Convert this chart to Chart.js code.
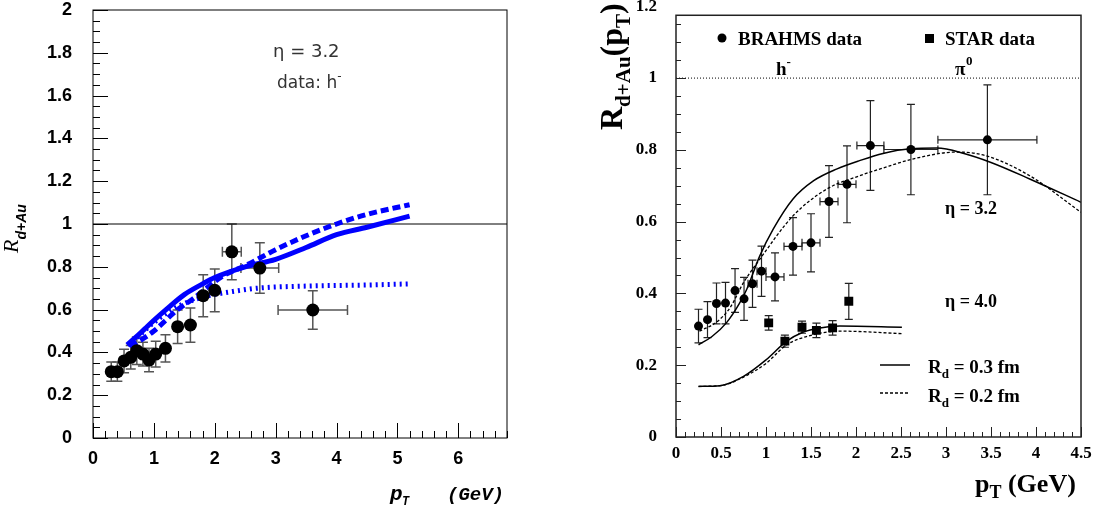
<!DOCTYPE html>
<html>
<head>
<meta charset="utf-8">
<script src="https://cdn.jsdelivr.net/npm/chart.js@4/dist/chart.umd.min.js"></script>
<style>
    body { margin: 0; background: #fff; width: 1101px; height: 509px; overflow: hidden; position: relative; }
    canvas { position: absolute; top: 0; }
    #left { left: 0; }
    #right { left: 560px; }
</style>
</head>
<body>
<canvas id="left" width="560" height="509"></canvas>
<canvas id="right" width="541" height="509"></canvas>
<script>
// ---- panel izquierdo: eta = 3.2, datos h- ----
const leftPt   = [0.30, 0.40, 0.51, 0.62, 0.72, 0.82, 0.92, 1.03, 1.19, 1.39, 1.60, 1.81, 2.00, 2.28, 2.74, 3.61];
const leftR    = [0.31, 0.31, 0.36, 0.377, 0.408, 0.392, 0.364, 0.392, 0.419, 0.52, 0.528, 0.665, 0.69, 0.87, 0.794, 0.598];
const leftErrY = [0.045, 0.045, 0.055, 0.055, 0.064, 0.055, 0.055, 0.06, 0.064, 0.078, 0.08, 0.098, 0.1, 0.13, 0.118, 0.09];
const leftErrX = [0, 0, 0, 0, 0, 0, 0.03, 0.03, 0.05, 0.05, 0.05, 0, 0, 0.155, 0.31, 0.57];

const blueSolidX  = [0.56, 0.7, 0.85, 1.0, 1.2, 1.5, 1.8, 2.0, 2.5, 3.0, 3.5, 4.0, 4.5, 5.2];
const blueSolidY  = [0.435, 0.47, 0.51, 0.55, 0.6, 0.67, 0.72, 0.75, 0.80, 0.835, 0.89, 0.95, 0.985, 1.037];
const blueDashX   = [0.61, 0.8, 1.0, 1.37, 1.64, 2.14, 2.52, 3.0, 3.5, 4.0, 4.5, 5.2];
const blueDashY   = [0.427, 0.46, 0.50, 0.595, 0.65, 0.758, 0.808, 0.88, 0.945, 1.0, 1.045, 1.09];
const blueDotX    = [0.58, 0.8, 1.0, 1.3, 1.6, 1.9, 2.3, 2.7, 3.5, 4.5, 5.2];
const blueDotY    = [0.43, 0.49, 0.54, 0.60, 0.64, 0.665, 0.685, 0.70, 0.71, 0.715, 0.72];

const leftUnityX = [0, 6.8];
const leftUnityY = [1, 1];

// ---- panel derecho: BRAHMS / STAR ----
const brahmsPt   = [0.25, 0.35, 0.45, 0.55, 0.656, 0.756, 0.85, 0.95, 1.1, 1.3, 1.5, 1.7, 1.9, 2.16, 2.61, 3.46];
const brahmsR    = [0.309, 0.327, 0.372, 0.373, 0.408, 0.385, 0.427, 0.462, 0.446, 0.531, 0.541, 0.656, 0.704, 0.812, 0.801, 0.828];
const brahmsErrY = [0.047, 0.05, 0.057, 0.058, 0.061, 0.06, 0.066, 0.07, 0.067, 0.08, 0.081, 0.1, 0.107, 0.125, 0.126, 0.153];
const brahmsErrX = [0, 0, 0, 0, 0, 0, 0.05, 0.05, 0.1, 0.1, 0.1, 0.1, 0.1, 0.15, 0.3, 0.55];

const starPt   = [1.03, 1.21, 1.40, 1.56, 1.74, 1.92];
const starR    = [0.318, 0.267, 0.306, 0.297, 0.304, 0.378];
const starErrY = [0.02, 0.017, 0.017, 0.02, 0.02, 0.05];

const eta32SolidX = [0.25, 0.4, 0.56, 0.7, 0.785, 0.93, 1.08, 1.3, 1.53, 1.79, 2.04, 2.3, 2.6, 2.9, 3.2, 3.5, 3.93, 4.5];
const eta32SolidY = [0.257, 0.28, 0.318, 0.37, 0.411, 0.504, 0.579, 0.663, 0.714, 0.747, 0.77, 0.79, 0.803, 0.805, 0.79, 0.765, 0.719, 0.654];
const eta32DashX  = [0.26, 0.45, 0.6, 0.75, 0.93, 1.3, 1.67, 2.04, 2.27, 2.64, 3.12, 3.44, 3.93, 4.5];
const eta32DashY  = [0.295, 0.32, 0.36, 0.43, 0.495, 0.616, 0.69, 0.728, 0.747, 0.775, 0.794, 0.784, 0.728, 0.626];
const eta40SolidX = [0.25, 0.49, 0.75, 1.0, 1.23, 1.41, 1.6, 1.82, 2.51];
const eta40SolidY = [0.141, 0.143, 0.169, 0.215, 0.267, 0.292, 0.304, 0.309, 0.306];
const eta40DashX  = [0.25, 0.49, 0.75, 1.0, 1.23, 1.53, 1.82, 2.51];
const eta40DashY  = [0.141, 0.143, 0.167, 0.205, 0.257, 0.285, 0.295, 0.288];

const rightUnityX = [0, 4.5];
const rightUnityY = [1, 1];

function pts(xs, ys) {
    return xs.map((x, i) => ({ x: x, y: ys[i] }));
}

// texto con sub/superindices
function rich(ctx, x, y, parts) {
    let cx = x;
    parts.forEach(p => {
        ctx.font = p.font;
        ctx.fillText(p.text, cx, y + (p.dy || 0));
        cx += ctx.measureText(p.text).width;
    });
}

// que chart.js no meta margen extra por las etiquetas
function fixX(h) {
    return s => { s.height = h; s.paddingLeft = 0; s.paddingRight = 0; };
}
function fixY(w) {
    return s => { s.width = w; s.paddingTop = 0; s.paddingBottom = 0; };
}

// barras de error (antes de pintar los puntos)
const errPlugin = {
    id: 'errbars',
    beforeDatasetsDraw(chart) {
        const ctx = chart.ctx, xs = chart.scales.x, ys = chart.scales.y;
        chart.data.datasets.forEach(ds => {
            if (!ds.errY) return;
            ctx.save();
            ctx.strokeStyle = ds.errColor;
            ctx.lineWidth = ds.errWidth;
            const cap = ds.capSize;
            ds.data.forEach((p, i) => {
                const px = xs.getPixelForValue(p.x), py = ys.getPixelForValue(p.y);
                const ey = ds.errY[i], ex = ds.errX ? ds.errX[i] : 0;
                ctx.beginPath();
                if (ey) {
                    const y1 = ys.getPixelForValue(p.y - ey), y2 = ys.getPixelForValue(p.y + ey);
                    ctx.moveTo(px, y1); ctx.lineTo(px, y2);
                    ctx.moveTo(px - cap, y1); ctx.lineTo(px + cap, y1);
                    ctx.moveTo(px - cap, y2); ctx.lineTo(px + cap, y2);
                }
                if (ex) {
                    const x1 = xs.getPixelForValue(p.x - ex), x2 = xs.getPixelForValue(p.x + ex);
                    ctx.moveTo(x1, py); ctx.lineTo(x2, py);
                    ctx.moveTo(x1, py - cap); ctx.lineTo(x1, py + cap);
                    ctx.moveTo(x2, py - cap); ctx.lineTo(x2, py + cap);
                }
                ctx.stroke();
            });
            ctx.restore();
        });
    }
};

// marco + ticks hacia dentro + textos
function makeFrame(o) {
    return {
        id: 'frame',
        afterDraw(chart) {
            const ctx = chart.ctx, a = chart.chartArea;
            const xs = chart.scales.x, ys = chart.scales.y;
            ctx.save();
            ctx.strokeStyle = o.frameColor;
            ctx.lineWidth = o.frameWidth;
            const top = o.frameTop !== undefined ? ys.getPixelForValue(o.frameTop) : a.top;
            ctx.strokeRect(a.left, top, a.right - a.left, a.bottom - top);
            ctx.lineWidth = 1;
            ctx.beginPath();
            for (let v = 0; v <= xs.max + 1e-9; v += o.xMinor) {
                const maj = Math.abs(v / o.xMajor - Math.round(v / o.xMajor)) < 1e-6;
                const px = Math.round(xs.getPixelForValue(v)) + 0.5;
                ctx.moveTo(px, a.bottom);
                ctx.lineTo(px, a.bottom - (maj ? o.xMajLen : o.xMinLen));
            }
            for (let v = 0; v <= ys.max + 1e-9; v += o.yMinor) {
                const maj = Math.abs(v / o.yMajor - Math.round(v / o.yMajor)) < 1e-6;
                const py = Math.round(ys.getPixelForValue(v)) + 0.5;
                if (py < top) continue;
                ctx.moveTo(a.left, py);
                ctx.lineTo(a.left + (maj ? o.yMajLen : o.yMinLen), py);
            }
            ctx.stroke();
            ctx.restore();
            ctx.save();
            o.text(ctx);
            ctx.restore();
        }
    };
}

// ================= izquierda =================
const leftFrame = makeFrame({
    frameColor: '#000', frameWidth: 1,
    xMinor: 0.2, xMajor: 1, xMinLen: 7, xMajLen: 15,
    yMinor: 0.05, yMajor: 0.2, yMinLen: 7, yMajLen: 15,
    text(ctx) {
        ctx.fillStyle = '#333';
        rich(ctx, 273, 57, [{ text: 'η = 3.2', font: '18px "DejaVu Sans"' }]);
        rich(ctx, 277, 88, [
            { text: 'data: h', font: '17px "DejaVu Sans"' },
            { text: '-', font: '12px "DejaVu Sans"', dy: -8 }
        ]);
        ctx.fillStyle = '#000';
        // titulo eje y
        ctx.save();
        ctx.translate(18, 253);
        ctx.rotate(-Math.PI / 2);
        rich(ctx, 0, 0, [
            { text: 'R', font: 'italic 22px "Liberation Serif"' },
            { text: 'd+Au', font: 'italic bold 14px "Liberation Sans"', dy: 8 }
        ]);
        ctx.restore();
        // titulo eje x
        rich(ctx, 390, 500, [{ text: 'p', font: 'bold italic 21px "Liberation Mono"' }]);
        rich(ctx, 402, 505, [{ text: 'T', font: 'bold italic 12px "Liberation Mono"' }]);
        rich(ctx, 447, 500, [{ text: '(GeV)', font: 'bold italic 19px "Liberation Mono"' }]);
    }
});

new Chart(document.getElementById('left'), {
    type: 'scatter',
    data: {
        datasets: [
            {
                label: 'h- data',
                data: pts(leftPt, leftR),
                errY: leftErrY, errX: leftErrX, errColor: '#555', errWidth: 1.5, capSize: 5,
                pointRadius: 6.5, backgroundColor: '#000', borderColor: '#000', borderWidth: 0
            },
            {
                label: 'solid', data: pts(blueSolidX, blueSolidY), showLine: true,
                borderColor: '#0000ff', borderWidth: 5, pointRadius: 0, cubicInterpolationMode: 'monotone'
            },
            {
                label: 'dashed', data: pts(blueDashX, blueDashY), showLine: true, borderDash: [8, 4],
                borderColor: '#0000ff', borderWidth: 5, pointRadius: 0, cubicInterpolationMode: 'monotone'
            },
            {
                label: 'dotted', data: pts(blueDotX, blueDotY), showLine: true, borderDash: [2, 4],
                borderColor: '#0000ff', borderWidth: 5, pointRadius: 0, cubicInterpolationMode: 'monotone'
            },
            {
                label: 'unity', data: pts(leftUnityX, leftUnityY), showLine: true,
                borderColor: '#000', borderWidth: 1, pointRadius: 0
            }
        ]
    },
    options: {
        responsive: false,
        animation: false,
        devicePixelRatio: 1,
        layout: { padding: { top: 10, right: 53, left: 0, bottom: 0 } },
        plugins: { legend: { display: false }, tooltip: { enabled: false } },
        scales: {
            x: {
                type: 'linear', min: 0, max: 6.8,
                afterFit: fixX(71),
                grid: { display: false, drawTicks: false }, border: { display: false },
                ticks: {
                    stepSize: 1, includeBounds: false, padding: 10, maxRotation: 0, color: '#000',
                    font: { family: 'Liberation Sans', weight: 'bold', size: 18 }
                }
            },
            y: {
                type: 'linear', min: 0, max: 2,
                afterFit: fixY(93),
                grid: { display: false, drawTicks: false }, border: { display: false },
                ticks: {
                    stepSize: 0.2, includeBounds: false, padding: 21, color: '#000',
                    font: { family: 'Liberation Sans', weight: 'bold', size: 18 },
                    callback: v => +v.toFixed(1)
                }
            }
        }
    },
    plugins: [errPlugin, leftFrame]
});

// ================= derecha =================
const OX = 560;
const rightFrame = makeFrame({
    frameColor: '#222', frameWidth: 1.5, frameTop: 1.175,
    xMinor: 0.1, xMajor: 0.5, xMinLen: 5, xMajLen: 10,
    yMinor: 0.05, yMajor: 0.2, yMinLen: 5, yMajLen: 10,
    text(ctx) {
        const F = 'bold 19px "Liberation Serif"';
        const S = 'bold 13px "Liberation Serif"';
        ctx.fillStyle = '#000';
        ctx.strokeStyle = '#000';
        ctx.beginPath();
        ctx.arc(722 - OX, 38, 4.5, 0, Math.PI * 2);
        ctx.fill();
        rich(ctx, 738 - OX, 45, [{ text: 'BRAHMS data', font: F }]);
        ctx.fillRect(925 - OX, 34, 9, 9);
        rich(ctx, 945 - OX, 45, [{ text: 'STAR data', font: F }]);
        rich(ctx, 776 - OX, 75, [{ text: 'h', font: F }, { text: '-', font: S, dy: -9 }]);
        rich(ctx, 955 - OX, 75, [{ text: 'π', font: F }]);
        rich(ctx, 966 - OX, 65, [{ text: '0', font: S }]);
        rich(ctx, 945 - OX, 214, [{ text: 'η = 3.2', font: 'bold 18px "Liberation Serif"' }]);
        rich(ctx, 945 - OX, 307, [{ text: 'η = 4.0', font: 'bold 18px "Liberation Serif"' }]);
        // leyenda de lineas
        ctx.lineWidth = 1.5;
        ctx.beginPath();
        ctx.moveTo(880 - OX, 365); ctx.lineTo(910 - OX, 365);
        ctx.stroke();
        ctx.setLineDash([3, 2]);
        ctx.beginPath();
        ctx.moveTo(880 - OX, 393); ctx.lineTo(910 - OX, 393);
        ctx.stroke();
        ctx.setLineDash([]);
        rich(ctx, 928 - OX, 373, [{ text: 'R', font: F }, { text: 'd', font: S, dy: 5 }, { text: ' = 0.3 fm', font: F }]);
        rich(ctx, 928 - OX, 402, [{ text: 'R', font: F }, { text: 'd', font: S, dy: 5 }, { text: ' = 0.2 fm', font: F }]);
        // titulo eje x
        rich(ctx, 975 - OX, 492, [
            { text: 'p', font: 'bold 26px "Liberation Serif"' },
            { text: 'T', font: 'bold 18px "Liberation Serif"', dy: 6 },
            { text: ' (GeV)', font: 'bold 26px "Liberation Serif"' }
        ]);
        // titulo eje y
        ctx.save();
        ctx.translate(622 - OX, 130);
        ctx.rotate(-Math.PI / 2);
        rich(ctx, 0, 0, [
            { text: 'R', font: 'bold 32px "Liberation Serif"' },
            { text: 'd+Au', font: 'bold 21px "Liberation Serif"', dy: 8 },
            { text: '(p', font: 'bold 32px "Liberation Serif"' },
            { text: 'T', font: 'bold 21px "Liberation Serif"', dy: 8 },
            { text: ')', font: 'bold 32px "Liberation Serif"' }
        ]);
        ctx.restore();
    }
});

new Chart(document.getElementById('right'), {
    type: 'scatter',
    data: {
        datasets: [
            {
                label: 'BRAHMS data',
                data: pts(brahmsPt, brahmsR),
                errY: brahmsErrY, errX: brahmsErrX, errColor: '#222', errWidth: 1.2, capSize: 4,
                pointRadius: 4.5, backgroundColor: '#000', borderColor: '#000', borderWidth: 0
            },
            {
                label: 'STAR data',
                data: pts(starPt, starR),
                errY: starErrY, errColor: '#222', errWidth: 1.2, capSize: 4,
                pointStyle: 'rect', pointRadius: 6.3, backgroundColor: '#000', borderColor: '#000', borderWidth: 0
            },
            {
                label: 'eta 3.2 Rd 0.3', data: pts(eta32SolidX, eta32SolidY), showLine: true,
                borderColor: '#000', borderWidth: 1.5, pointRadius: 0, cubicInterpolationMode: 'monotone'
            },
            {
                label: 'eta 3.2 Rd 0.2', data: pts(eta32DashX, eta32DashY), showLine: true, borderDash: [3, 2],
                borderColor: '#000', borderWidth: 1.3, pointRadius: 0, cubicInterpolationMode: 'monotone'
            },
            {
                label: 'eta 4.0 Rd 0.3', data: pts(eta40SolidX, eta40SolidY), showLine: true,
                borderColor: '#000', borderWidth: 1.5, pointRadius: 0, cubicInterpolationMode: 'monotone'
            },
            {
                label: 'eta 4.0 Rd 0.2', data: pts(eta40DashX, eta40DashY), showLine: true, borderDash: [3, 2],
                borderColor: '#000', borderWidth: 1.3, pointRadius: 0, cubicInterpolationMode: 'monotone'
            },
            {
                label: 'unity', data: pts(rightUnityX, rightUnityY), showLine: true, borderDash: [1, 2],
                borderColor: '#000', borderWidth: 1, pointRadius: 0
            }
        ]
    },
    options: {
        responsive: false,
        animation: false,
        devicePixelRatio: 1,
        layout: { padding: { top: 6, right: 20, left: 0, bottom: 0 } },
        plugins: { legend: { display: false }, tooltip: { enabled: false } },
        scales: {
            x: {
                type: 'linear', min: 0, max: 4.5,
                afterFit: fixX(72),
                grid: { display: false, drawTicks: false }, border: { display: false },
                ticks: {
                    stepSize: 0.5, includeBounds: false, padding: 6, maxRotation: 0, color: '#000',
                    font: { family: 'Liberation Serif', weight: 'bold', size: 17 },
                    callback: v => +v.toFixed(1)
                }
            },
            y: {
                type: 'linear', min: 0, max: 1.2,
                afterFit: fixY(116),
                grid: { display: false, drawTicks: false }, border: { display: false },
                ticks: {
                    stepSize: 0.2, includeBounds: false, padding: 19, color: '#000',
                    font: { family: 'Liberation Serif', weight: 'bold', size: 17 },
                    callback: v => +v.toFixed(1)
                }
            }
        }
    },
    plugins: [errPlugin, rightFrame]
});
</script>
</body>
</html>
